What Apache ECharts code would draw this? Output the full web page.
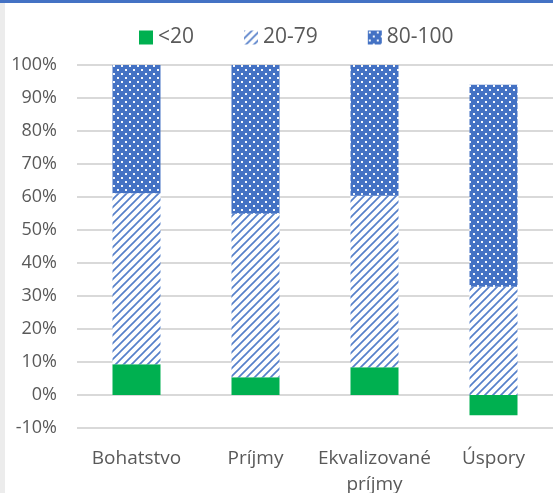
<!DOCTYPE html>
<html>
<head>
<meta charset="utf-8">
<script src="https://cdn.jsdelivr.net/npm/echarts@6/dist/echarts.min.js"></script>
<style>
  html, body { margin: 0; padding: 0; background: #fff; }
  #chart { width: 553px; height: 493px; }
</style>
</head>
<body>
<div id="chart"></div>
<script>
// Categories and shares (percent) per group
const categories = ['Bohatstvo', 'Príjmy', 'Ekvalizované\npríjmy', 'Úspory'];
const seriesNames = ['<20', '20-79', '80-100'];
const under20 = [9.3, 5.4, 8.4, -6.1];
const from20to79 = [51.8, 49.5, 52.0, 32.8];
const from80to100 = [38.9, 45.1, 39.6, 61.2];
const yTicks = { min: -10, max: 100, step: 10 };

const BLUE = '#4472C4';
const GREEN = '#00B050';

// Diagonal hatch: blue strokes on white
function hatchPattern() {
  const c = document.createElement('canvas');
  c.width = 8; c.height = 8;
  const g = c.getContext('2d');
  g.fillStyle = '#fff';
  g.fillRect(0, 0, 8, 8);
  g.lineWidth = 1.7;
  g.strokeStyle = 'rgba(68,114,196,0.9)';
  g.beginPath();
  g.moveTo(-1, 9); g.lineTo(9, -1);
  g.moveTo(-1, 1); g.lineTo(1, -1);
  g.moveTo(7, 9); g.lineTo(9, 7);
  g.stroke();
  return c;
}

// Dotted fill: small white squares on blue
function dotPattern() {
  const c = document.createElement('canvas');
  c.width = 8; c.height = 8;
  const g = c.getContext('2d');
  g.fillStyle = BLUE;
  g.fillRect(0, 0, 8, 8);
  g.fillStyle = 'rgba(255,255,255,0.95)';
  g.fillRect(1, 1, 2, 2);
  g.fillRect(5, 5, 2, 2);
  return c;
}

const FONT = '"Open Sans", "Liberation Sans", sans-serif';
const TXT = '#595959';

const chart = echarts.init(document.getElementById('chart'), null, { renderer: 'canvas' });

chart.setOption({
  animation: false,
  backgroundColor: '#fff',
  graphic: [
    { type: 'rect', left: 0, top: 0, shape: { width: 553, height: 3 }, style: { fill: BLUE }, z: 100 },
    { type: 'rect', left: 0, top: 3, shape: { width: 5, height: 490 }, style: { fill: '#ececec' }, z: 100 }
  ],
  legend: {
    left: 139,
    top: 27,
    padding: 0,
    itemWidth: 14,
    itemHeight: 14,
    itemGap: 50,
    icon: 'rect',
    textStyle: { color: TXT, fontSize: 21, fontFamily: FONT },
    data: seriesNames
  },
  grid: { left: 77, right: 0, top: 65, bottom: 65, containLabel: false, outerBoundsMode: 'none' },
  xAxis: {
    type: 'category',
    data: categories,
    axisLine: { show: false },
    axisTick: { show: false },
    axisLabel: { interval: 0, color: TXT, fontSize: 19, fontFamily: FONT, margin: 18, lineHeight: 26 }
  },
  yAxis: {
    type: 'value',
    min: yTicks.min,
    max: yTicks.max,
    interval: yTicks.step,
    axisLine: { show: false },
    axisTick: { show: false },
    splitLine: { lineStyle: { color: '#d9d9d9', width: 2 } },
    axisLabel: { color: TXT, fontSize: 18, fontFamily: FONT, margin: 20, formatter: v => v + '%' }
  },
  series: [
    {
      name: seriesNames[0], type: 'bar', stack: 'total', barWidth: 48,
      itemStyle: { color: GREEN },
      data: under20
    },
    {
      name: seriesNames[1], type: 'bar', stack: 'total', barWidth: 48,
      itemStyle: { color: { image: hatchPattern(), repeat: 'repeat' } },
      data: from20to79
    },
    {
      name: seriesNames[2], type: 'bar', stack: 'total', barWidth: 48,
      itemStyle: { color: { image: dotPattern(), repeat: 'repeat' } },
      data: from80to100
    }
  ]
});
</script>
</body>
</html>
